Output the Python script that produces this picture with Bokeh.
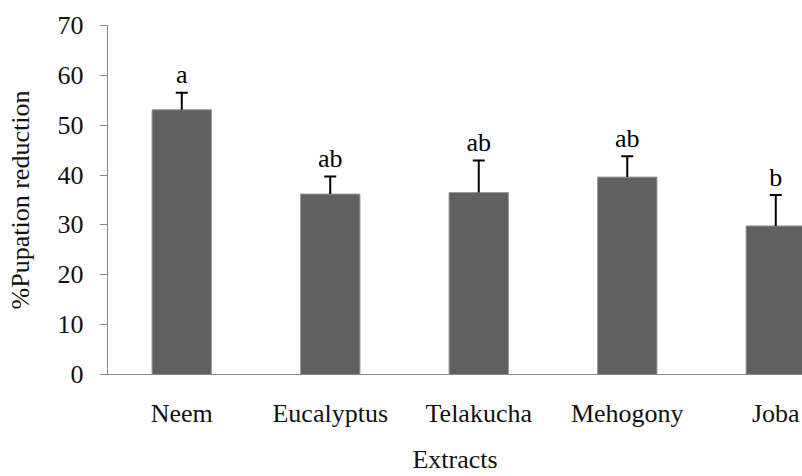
from bokeh.plotting import figure
from bokeh.models import ColumnDataSource, FixedTicker, Range1d
from bokeh.core.properties import value
from bokeh.embed import file_html
from bokeh.resources import INLINE

categories = ["Neem", "Eucalyptus", "Telakucha", "Mehogony", "Joba"]
reduction = [53.1, 36.2, 36.5, 39.6, 29.8]
error = [3.4, 3.5, 6.4, 4.2, 6.2]
letters = ["a", "ab", "ab", "ab", "b"]
y_ticks = [0, 10, 20, 30, 40, 50, 60, 70]

FONT = "Liberation Serif"
AXIS_FONT = "serif"
xs = list(range(len(categories)))
tops = [v + e for v, e in zip(reduction, error)]
src = ColumnDataSource(dict(x=xs, v=reduction, top=tops, lab=letters))

p = figure(width=802, height=476, output_backend="svg", toolbar_location=None,
           x_range=Range1d(-0.5, 4.18), y_range=Range1d(0, 70),
           min_border_left=107, min_border_right=0, min_border_top=25, min_border_bottom=102)
p.outline_line_color = None
p.xgrid.grid_line_color = None
p.ygrid.grid_line_color = None
p.background_fill_color = "white"
p.border_fill_color = "white"

p.vbar(x="x", top="v", bottom=0, width=0.40, source=src,
       fill_color="#606060", line_color="#9a9a9a", line_width=1)
p.segment(x0="x", y0="v", x1="x", y1="top", source=src, line_color="black", line_width=2)
p.rect(x="x", y="top", width=12, height=2, width_units="screen", height_units="screen",
       source=src, fill_color="black", line_color=None)
p.text(x="x", y="top", text="lab", source=src, text_align="center", text_baseline="alphabetic",
       y_offset=-18, text_font=value(FONT), text_font_size="26px", text_color="black")

ya = p.yaxis[0]
ya.ticker = FixedTicker(ticks=y_ticks)
ya.axis_line_color = "#8c8c8c"
ya.major_tick_line_color = "#8c8c8c"
ya.major_tick_out = 8
ya.major_tick_in = 0
ya.minor_tick_line_color = None
ya.major_label_text_font = AXIS_FONT
ya.major_label_text_font_size = "26px"
ya.major_label_text_color = "#111111"
ya.major_label_standoff = 16
ya.axis_label = "%Pupation reduction"
ya.axis_label_text_font = AXIS_FONT
ya.axis_label_text_font_size = "26px"
ya.axis_label_text_font_style = "normal"
ya.axis_label_text_color = "#111111"
ya.axis_label_standoff = 20

xa = p.xaxis[0]
xa.ticker = FixedTicker(ticks=xs)
xa.major_label_overrides = {i: c for i, c in enumerate(categories)}
xa.axis_line_color = "#8c8c8c"
xa.major_tick_line_color = None
xa.major_tick_out = 0
xa.major_tick_in = 0
xa.minor_tick_line_color = None
xa.major_label_text_font = AXIS_FONT
xa.major_label_text_font_size = "26px"
xa.major_label_text_color = "#111111"
xa.major_label_standoff = 24
xa.axis_label = "Extracts"
xa.axis_label_text_font = AXIS_FONT
xa.axis_label_text_font_size = "26px"
xa.axis_label_text_font_style = "normal"
xa.axis_label_text_color = "#111111"
xa.axis_label_standoff = 14

open("out.html", "w").write(file_html(p, INLINE))
